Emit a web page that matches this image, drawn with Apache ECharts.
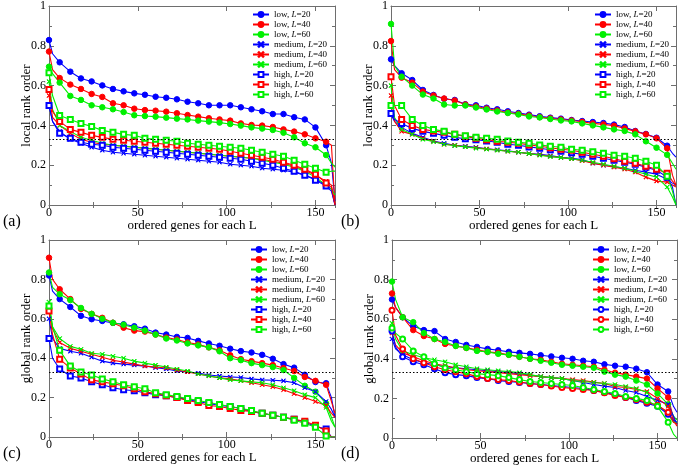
<!DOCTYPE html>
<html><head><meta charset="utf-8">
<script src="https://cdn.jsdelivr.net/npm/echarts@6/dist/echarts.min.js"></script>
<style>html,body{margin:0;padding:0;background:#fff}#c{width:680px;height:467px}</style>
</head><body><div id="c"></div>
<script>
// x positions of the read values (markers every 6 genes)
const GX = [0,2,6,12,18,24,30,36,42,48,54,60,66,72,78,84,90,96,102,108,114,120,126,132,138,144,150,156,159,161];
const XMAX = 161;
const THRESH = 1/3;
const NAMES = ['low, L=20','low, L=40','low, L=60','medium, L=20','medium, L=40','medium, L=60','high, L=20','high, L=40','high, L=60'];
const X_TICKS = [0,50,100,150];

// (a) local rank order
const a_low20 = [.829,.76,.717,.670,.636,.621,.601,.583,.571,.561,.554,.544,.539,.531,.519,.511,.501,.501,.501,.491,.481,.471,.457,.457,.441,.430,.390,.30,.21,.02];
const a_low40 = [.771,.68,.638,.605,.583,.558,.543,.511,.501,.484,.477,.474,.469,.461,.452,.444,.436,.430,.424,.410,.402,.399,.392,.380,.369,.355,.335,.318,.30,.0];
const a_low60 = [.695,.66,.615,.548,.528,.501,.491,.481,.467,.451,.447,.444,.439,.434,.430,.424,.419,.414,.407,.399,.390,.384,.377,.363,.340,.310,.290,.251,.21,.19];
const a_med20 = [.50,.42,.37,.33,.31,.29,.275,.265,.26,.255,.25,.245,.24,.235,.23,.225,.22,.215,.205,.2,.195,.185,.18,.175,.165,.15,.13,.10,.08,.0];
const a_med40 = [.55,.44,.40,.36,.33,.315,.305,.30,.295,.29,.285,.28,.275,.27,.265,.26,.255,.25,.245,.24,.235,.23,.22,.21,.195,.175,.15,.12,.10,.0];
const a_med60 = [.62,.48,.40,.37,.34,.325,.31,.30,.295,.29,.285,.28,.275,.27,.265,.26,.255,.25,.245,.24,.235,.225,.215,.205,.19,.17,.14,.10,.08,.05];
const a_high20 = [.50,.42,.36,.335,.315,.305,.30,.29,.285,.28,.275,.27,.265,.26,.255,.25,.245,.24,.235,.23,.22,.21,.20,.185,.17,.15,.125,.095,.07,.0];
const a_high40 = [.58,.47,.42,.38,.365,.35,.34,.33,.325,.32,.315,.31,.305,.30,.295,.29,.285,.28,.27,.26,.25,.24,.23,.215,.20,.18,.155,.11,.09,.0];
const a_high60 = [.665,.55,.45,.43,.41,.395,.375,.365,.355,.35,.335,.33,.325,.32,.31,.305,.30,.295,.29,.285,.275,.265,.255,.245,.225,.205,.185,.165,.17,.17];

// (b) local rank order
const b_low20 = [.732,.70,.662,.628,.578,.553,.534,.528,.506,.501,.489,.481,.471,.462,.454,.446,.439,.434,.427,.422,.417,.412,.404,.392,.372,.357,.338,.298,.26,.24];
const b_low40 = [.824,.68,.64,.615,.57,.55,.535,.525,.505,.495,.485,.475,.465,.458,.45,.442,.436,.43,.425,.418,.41,.405,.398,.385,.37,.355,.335,.285,.15,.10];
const b_low60 = [.91,.70,.645,.60,.555,.535,.505,.50,.50,.49,.48,.47,.462,.455,.445,.44,.432,.425,.42,.41,.40,.39,.38,.372,.355,.32,.288,.252,.21,.18];
const b_med20 = [.455,.42,.39,.36,.34,.322,.31,.30,.295,.29,.282,.278,.272,.265,.258,.255,.248,.24,.235,.228,.21,.20,.192,.185,.175,.165,.155,.13,.11,.10];
const b_med40 = [.55,.42,.37,.355,.335,.32,.305,.30,.293,.288,.282,.276,.27,.265,.258,.252,.245,.238,.232,.222,.21,.20,.19,.18,.165,.14,.12,.115,.10,.09];
const b_med60 = [.60,.44,.38,.355,.33,.318,.305,.298,.292,.285,.28,.275,.27,.265,.258,.25,.243,.238,.232,.225,.215,.205,.195,.185,.17,.155,.14,.09,.04,.0];
const b_high20 = [.46,.43,.41,.385,.37,.36,.35,.34,.333,.328,.322,.315,.305,.30,.292,.285,.278,.27,.262,.255,.245,.235,.225,.215,.205,.19,.175,.14,.09,.0];
const b_high40 = [.645,.50,.43,.40,.38,.372,.365,.355,.345,.335,.328,.32,.315,.31,.302,.295,.288,.28,.275,.265,.255,.245,.232,.22,.21,.195,.18,.16,.12,.10];
const b_high60 = [.50,.50,.50,.43,.40,.38,.37,.355,.348,.34,.335,.33,.322,.315,.31,.302,.295,.29,.28,.275,.268,.26,.25,.245,.235,.22,.20,.145,.07,.0];

// (c) global rank order
const c_low20 = [.82,.74,.70,.66,.615,.598,.589,.579,.572,.562,.55,.53,.52,.508,.503,.488,.475,.463,.448,.436,.429,.417,.397,.37,.352,.316,.279,.273,.20,.10];
const c_low40 = [.91,.80,.75,.70,.65,.625,.605,.58,.555,.54,.535,.52,.505,.495,.48,.47,.455,.44,.415,.395,.385,.375,.365,.35,.335,.305,.285,.265,.18,.12];
const c_low60 = [.835,.76,.725,.695,.655,.625,.60,.58,.57,.555,.54,.52,.50,.49,.475,.465,.455,.435,.40,.39,.375,.365,.355,.34,.30,.26,.23,.17,.10,.05];
const c_med20 = [.60,.50,.45,.435,.425,.405,.385,.375,.37,.365,.36,.352,.345,.335,.33,.325,.315,.31,.305,.302,.295,.29,.288,.285,.275,.25,.23,.18,.14,.10];
const c_med40 = [.65,.55,.48,.45,.435,.42,.405,.39,.38,.37,.36,.355,.35,.34,.33,.32,.31,.30,.295,.285,.275,.265,.255,.24,.22,.20,.18,.16,.12,.10];
const c_med60 = [.685,.56,.50,.46,.445,.425,.42,.41,.40,.385,.375,.365,.355,.345,.335,.32,.31,.30,.29,.285,.28,.275,.265,.25,.235,.215,.20,.15,.08,.05];
const c_high20 = [.50,.40,.345,.31,.30,.28,.265,.25,.24,.235,.225,.215,.21,.20,.19,.18,.17,.16,.155,.145,.13,.12,.11,.10,.09,.075,.055,.04,.0,.0];
const c_high40 = [.64,.52,.395,.35,.32,.29,.28,.27,.26,.245,.23,.22,.21,.20,.185,.175,.16,.155,.145,.135,.13,.12,.11,.10,.09,.08,.06,.03,.0,.0];
const c_high60 = [.665,.56,.44,.36,.33,.315,.295,.28,.265,.255,.245,.225,.215,.205,.195,.185,.175,.165,.155,.145,.135,.12,.11,.10,.085,.07,.05,.005,.0,.0];

// (d) global rank order
const d_low20 = [.70,.66,.61,.565,.545,.54,.50,.485,.47,.46,.45,.443,.435,.43,.425,.418,.412,.405,.40,.39,.385,.372,.365,.36,.35,.332,.27,.235,.16,.13];
const d_low40 = [.73,.66,.61,.545,.515,.50,.475,.465,.455,.445,.435,.43,.42,.41,.40,.395,.385,.375,.37,.365,.36,.345,.33,.32,.31,.30,.25,.205,.10,.07];
const d_low60 = [.79,.70,.61,.585,.53,.50,.485,.465,.455,.44,.435,.425,.42,.41,.40,.39,.38,.37,.365,.36,.355,.335,.32,.31,.29,.27,.225,.17,.11,.09];
const d_med20 = [.50,.45,.42,.395,.38,.37,.36,.355,.35,.345,.34,.335,.33,.325,.318,.31,.305,.30,.29,.28,.27,.262,.255,.24,.23,.21,.19,.17,.11,.07];
const d_med40 = [.53,.47,.43,.41,.39,.375,.365,.355,.345,.34,.335,.33,.325,.32,.315,.31,.305,.30,.295,.29,.282,.275,.26,.255,.245,.235,.20,.16,.09,.06];
const d_med60 = [.58,.50,.44,.42,.405,.395,.385,.37,.36,.35,.345,.34,.335,.33,.32,.31,.305,.30,.29,.285,.28,.275,.27,.26,.25,.23,.17,.12,.08,.08];
const d_high20 = [.54,.46,.41,.385,.37,.35,.33,.32,.315,.305,.30,.29,.285,.28,.275,.27,.265,.26,.255,.25,.24,.23,.22,.205,.19,.175,.16,.12,.09,.08];
const d_high40 = [.645,.52,.45,.40,.38,.36,.345,.335,.325,.31,.30,.295,.29,.283,.275,.27,.263,.255,.25,.245,.24,.228,.215,.205,.195,.18,.165,.13,.08,.07];
const d_high60 = [.555,.53,.50,.44,.41,.375,.355,.345,.335,.325,.32,.315,.305,.295,.285,.28,.275,.27,.265,.255,.245,.235,.225,.21,.20,.19,.16,.08,.02,.0];

const FONT = '"Liberation Serif","DejaVu Serif",serif';
const FRAME = '#6e6e6e';
const COLORS = ['#0000ff','#ff0000','#00f000'];
const XSYM = 'path://M0,0.7L0.7,0L5,4.3L9.3,0L10,0.7L5.7,5L10,9.3L9.3,10L5,5.7L0.7,10L0,9.3L4.3,5Z';

const panels = [
  {ys:[a_low20,a_low40,a_low60,a_med20,a_med40,a_med60,a_high20,a_high40,a_high60], grid:{left:49,top:6,width:286,height:199}, yName:'local rank order', letter:'(a)', lx:3, ly:214, leg:{left:252,top:10}, highSym:'emptyRect'},
  {ys:[b_low20,b_low40,b_low60,b_med20,b_med40,b_med60,b_high20,b_high40,b_high60], grid:{left:391,top:6,width:285,height:199}, yName:'local rank order', letter:'(b)', lx:341, ly:214, leg:{left:594,top:10}, highSym:'emptyRect'},
  {ys:[c_low20,c_low40,c_low60,c_med20,c_med40,c_med60,c_high20,c_high40,c_high60], grid:{left:49,top:240,width:286,height:197}, yName:'global rank order', letter:'(c)', lx:3, ly:446, leg:{left:250,top:245}, highSym:'emptyRect'},
  {ys:[d_low20,d_low40,d_low60,d_med20,d_med40,d_med60,d_high20,d_high40,d_high60], grid:{left:392,top:240,width:285,height:198}, yName:'global rank order', letter:'(d)', lx:341, ly:446, leg:{left:592,top:245}, highSym:'emptyCircle'}
];

const option = {animation:false, backgroundColor:'#fff', grid:[], xAxis:[], yAxis:[], series:[], legend:[], graphic:[]};

panels.forEach((p, gi) => {
  option.grid.push(Object.assign({containLabel:false}, p.grid));
  const lineX = {show:true, onZero:false, lineStyle:{color:FRAME, width:1}};
  const base = {gridIndex:gi, type:'value', min:0, max:XMAX, splitLine:{show:false}};
  option.xAxis.push(Object.assign({}, base, {position:'bottom', interval:50, axisLine:lineX,
    axisTick:{inside:true, length:5, lineStyle:{color:FRAME}},
    axisLabel:{showMaxLabel:false, fontFamily:FONT, fontSize:12, color:'#000', margin:2,
      formatter: v => X_TICKS.indexOf(v) >= 0 ? String(v) : ''},
    name:'ordered genes for each L', nameLocation:'middle', nameGap:14, nameMoveOverlap:false,
    nameTextStyle:{fontFamily:FONT, fontSize:13, color:'#000'}}));
  option.xAxis.push(Object.assign({}, base, {position:'top', interval:50, axisLine:lineX,
    axisTick:{inside:true, length:5, lineStyle:{color:FRAME}}, axisLabel:{show:false}}));
  option.xAxis.push(Object.assign({}, base, {position:'bottom', interval:25, axisLine:{show:false},
    axisTick:{inside:true, length:3, lineStyle:{color:FRAME}}, axisLabel:{show:false}}));
  option.xAxis.push(Object.assign({}, base, {position:'top', interval:25, axisLine:{show:false},
    axisTick:{inside:true, length:3, lineStyle:{color:FRAME}}, axisLabel:{show:false}}));
  const ybase = {gridIndex:gi, type:'value', min:0, max:1, interval:0.2, splitLine:{show:false},
    axisLine:lineX, axisTick:{inside:true, length:5, lineStyle:{color:FRAME}},
    minorTick:{show:true, splitNumber:2, length:3, lineStyle:{color:FRAME}}};
  option.yAxis.push(Object.assign({}, ybase, {position:'left',
    axisLabel:{fontFamily:FONT, fontSize:12, color:'#000', margin:3},
    name:p.yName, nameLocation:'middle', nameGap:16, nameMoveOverlap:false,
    nameTextStyle:{fontFamily:FONT, fontSize:13, color:'#000'}}));
  option.yAxis.push(Object.assign({}, ybase, {position:'right', axisLabel:{show:false}}));

  const legNames = [];
  p.ys.forEach((ys, si) => {
    const kind = Math.floor(si / 3);
    const color = COLORS[si % 3];
    const name = NAMES[si] + '\u200b'.repeat(gi);
    legNames.push(name);
    const sym = kind === 0 ? 'circle' : (kind === 1 ? XSYM : p.highSym);
    const size = kind === 0 ? 5.5 : (kind === 1 ? 4 : 5);
    const s = {
      type:'line', name:name, xAxisIndex:gi*4, yAxisIndex:gi*2,
      symbol:sym, symbolSize:size, showSymbol:true,
      lineStyle:{color:color, width:1.1}, itemStyle:{color:color, borderColor:color, borderWidth:1},
      emphasis:{disabled:true},
      data: GX.map((x, i) => ({value:[x, ys[i]], symbol: (x % 6 === 0) ? sym : 'none'}))
    };
    if (si === 0) {
      s.markLine = {silent:true, symbol:'none', label:{show:false},
        lineStyle:{color:'#000', type:[1.5,2], width:1}, data:[{yAxis:THRESH}]};
    }
    option.series.push(s);
  });
  option.legend.push({orient:'vertical', left:p.leg.left, top:p.leg.top, padding:0,
    itemWidth:16, itemHeight:6, itemGap:1, data:legNames, selectedMode:false,
    formatter: n => { const c = n.replace(/\u200b/g,''); const k = c.indexOf('L='); return '{t|' + c.slice(0,k) + '}{i|L}{t|' + c.slice(k+1) + '}'; },
    textStyle:{fontFamily:FONT, fontSize:9, color:'#000', lineHeight:9,
      rich:{t:{fontFamily:FONT, fontSize:9, color:'#000'}, i:{fontFamily:FONT, fontSize:9, fontStyle:'italic', color:'#000'}}}});
  option.graphic.push({type:'text', left:p.lx, top:p.ly, style:{text:p.letter, font:'16px ' + FONT, fill:'#000'}});
});

const chart = echarts.init(document.getElementById('c'), null, {renderer:'canvas'});
chart.setOption(option);
</script></body></html>
